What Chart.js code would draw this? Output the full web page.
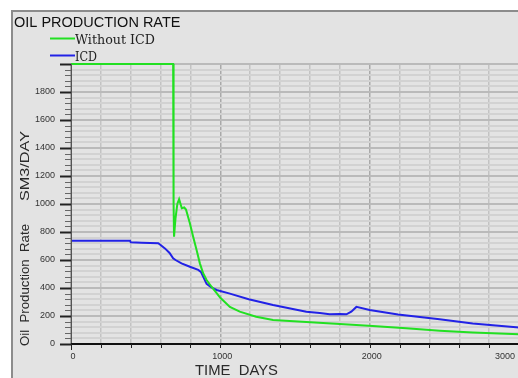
<!DOCTYPE html>
<html>
<head>
<meta charset="utf-8">
<script src="https://cdn.jsdelivr.net/npm/chart.js@4"></script>
<style>
  html, body { margin: 0; padding: 0; overflow: hidden; background: #fff; }
  #wrap { width: 518px; height: 378px; overflow: hidden; position: relative; }
  canvas { position: absolute; left: 0; top: 0; }
</style>
</head>
<body>
<div id="wrap"><canvas id="rate" width="522" height="378"></canvas></div>
<script>
// days / rate (SM3/DAY)
var noIcdDays = [0, 684, 686, 688, 690, 700, 712, 724, 742, 758, 770, 796, 818, 841, 863, 885, 908, 941, 970, 1000, 1064, 1130, 1240, 1353, 1576, 1800, 2020, 2245, 2470, 2690, 3000];
var noIcdRate = [2000, 2000, 1880, 1000, 766, 900, 1000, 1035, 970, 975, 960, 862, 766, 671, 576, 505, 457, 409, 370, 330, 265, 231, 195, 172, 157, 143, 129, 112, 95, 83, 70];

var icdDays = [0, 395, 400, 473, 584, 600, 629, 660, 684, 700, 740, 796, 852, 870, 885, 908, 940, 975, 1064, 1190, 1353, 1576, 1666, 1732, 1800, 1844, 1877, 1911, 2000, 2190, 2468, 2690, 3000];
var icdRate = [738, 738, 726, 724, 720, 707, 683, 650, 612, 600, 576, 552, 529, 515, 481, 429, 405, 386, 360, 320, 279, 231, 222, 212, 214, 212, 231, 265, 243, 210, 176, 147, 118];

var xTickLabels = [0, 1000, 2000, 3000];
var yTickLabels = [0, 200, 400, 600, 800, 1000, 1200, 1400, 1600, 1800];

function pts(xs, ys) {
  return xs.map(function (x, i) { return { x: x, y: ys[i] }; });
}

function fitText(ctx, text, x, y, w) {
  var m = ctx.measureText(text).width;
  ctx.save();
  ctx.translate(x, y);
  ctx.scale(w / m, 1);
  ctx.fillText(text, 0, 0);
  ctx.restore();
}

var frame = {
  id: 'frame',
  beforeDraw: function (chart) {
    var ctx = chart.ctx;
    ctx.save();
    ctx.fillStyle = '#fff';
    ctx.fillRect(0, 0, chart.width, chart.height);
    ctx.fillStyle = '#e3e3e3';
    ctx.fillRect(12, 11, 520, 380);
    ctx.strokeStyle = '#8c8c8c';
    ctx.lineWidth = 2;
    ctx.strokeRect(12, 11, 520, 380);
    ctx.restore();
  },
  afterDraw: function (chart) {
    var ctx = chart.ctx;
    var xs = chart.scales.x, ys = chart.scales.y;
    var a = chart.chartArea;
    ctx.save();

    // axes
    ctx.strokeStyle = '#555';
    ctx.lineWidth = 1;
    ctx.beginPath();
    ctx.moveTo(a.left + 0.5, a.top);
    ctx.lineTo(a.left + 0.5, a.bottom + 6);
    ctx.stroke();
    ctx.strokeStyle = '#111';
    ctx.lineWidth = 2;
    ctx.beginPath();
    ctx.moveTo(a.left, a.bottom);
    ctx.lineTo(a.right + 5, a.bottom);
    ctx.stroke();

    // y ticks
    for (var v = 0; v <= 2000; v += 40) {
      var py = Math.round(ys.getPixelForValue(v)) + 0.5;
      var major = v % 200 === 0;
      ctx.strokeStyle = major ? '#222' : '#666';
      ctx.lineWidth = major ? 2 : 1;
      ctx.beginPath();
      ctx.moveTo(major ? a.left - 11 : a.left - 6, py);
      ctx.lineTo(a.left, py);
      ctx.stroke();
    }
    // x ticks
    ctx.strokeStyle = '#222';
    ctx.lineWidth = 1;
    for (var d = 0; d <= 3000; d += 200) {
      var px = Math.round(xs.getPixelForValue(d)) + 0.5;
      ctx.beginPath();
      ctx.moveTo(px, a.bottom);
      ctx.lineTo(px, a.bottom + (d === 0 ? 6 : 4));
      ctx.stroke();
    }

    ctx.fillStyle = '#333';
    ctx.font = '9px "Liberation Sans", Arial';
    ctx.textAlign = 'right';
    ctx.textBaseline = 'middle';
    yTickLabels.forEach(function (v) {
      ctx.fillText(String(v), 55, ys.getPixelForValue(v));
    });
    ctx.textAlign = 'center';
    ctx.textBaseline = 'top';
    xTickLabels.forEach(function (d) {
      var s = String(d);
      var w = ctx.measureText(s).width;
      var cx = xs.getPixelForValue(d) + 2;
      if (cx + w / 2 > 515) cx = 515 - w / 2;
      ctx.fillText(s, cx, 352);
    });

    // title
    ctx.fillStyle = '#111';
    ctx.textAlign = 'left';
    ctx.textBaseline = 'alphabetic';
    ctx.font = '14.5px "Liberation Sans", Arial';
    ctx.fillText('OIL PRODUCTION RATE', 14, 27);

    // legend
    ctx.lineWidth = 2;
    ctx.strokeStyle = '#22e022';
    ctx.beginPath(); ctx.moveTo(50, 38.5); ctx.lineTo(75, 38.5); ctx.stroke();
    ctx.strokeStyle = '#2222e6';
    ctx.beginPath(); ctx.moveTo(50, 55.5); ctx.lineTo(75, 55.5); ctx.stroke();
    ctx.fillStyle = '#222';
    ctx.font = '12.5px "DejaVu Serif", serif';
    ctx.textBaseline = 'middle';
    fitText(ctx, 'Without ICD', 75, 40.5, 80);
    fitText(ctx, 'ICD', 75, 57.5, 22);

    // axis titles
    ctx.fillStyle = '#2a2a2a';
    ctx.textBaseline = 'alphabetic';
    ctx.font = '15px "Liberation Sans", Arial';
    fitText(ctx, 'TIME  DAYS', 195, 375, 83);
    ctx.translate(29, 0);
    ctx.rotate(-Math.PI / 2);
    ctx.font = '13px "Liberation Sans", Arial';
    fitText(ctx, 'Oil  Production  Rate', -346, 0, 122);
    fitText(ctx, 'SM3/DAY', -201, 0, 70);
    ctx.restore();
  }
};

new Chart(document.getElementById('rate'), {
  type: 'line',
  data: {
    datasets: [
      { label: 'Without ICD', data: pts(noIcdDays, noIcdRate), borderColor: '#22e022', borderWidth: 2, pointRadius: 0, tension: 0, clip: 4 },
      { label: 'ICD', data: pts(icdDays, icdRate), borderColor: '#2222e6', borderWidth: 2, pointRadius: 0, tension: 0, clip: 4 }
    ]
  },
  options: {
    responsive: false,
    animation: false,
    events: [],
    layout: { padding: { top: 64, right: 3, left: 0, bottom: 0 } },
    plugins: { legend: { display: false }, tooltip: { enabled: false } },
    scales: {
      x: {
        type: 'linear', min: 0, max: 3000,
        ticks: { stepSize: 200, display: false },
        border: { display: false },
        grid: {
          drawTicks: false,
          color: function (c) { return c.tick.value % 1000 === 0 ? '#a9a9a9' : '#c3c3c3'; },
          lineWidth: 1.5
        },
        afterFit: function (s) { s.height = 34; }
      },
      y: {
        min: 0, max: 2000,
        ticks: { stepSize: 40, display: false },
        border: { display: false },
        grid: {
          drawTicks: false,
          color: function (c) { return c.tick.value % 200 === 0 ? '#bababa' : '#d2d2d2'; },
          lineWidth: 2
        },
        afterFit: function (s) { s.width = 71; }
      }
    }
  },
  plugins: [frame]
});
</script>
</body>
</html>
